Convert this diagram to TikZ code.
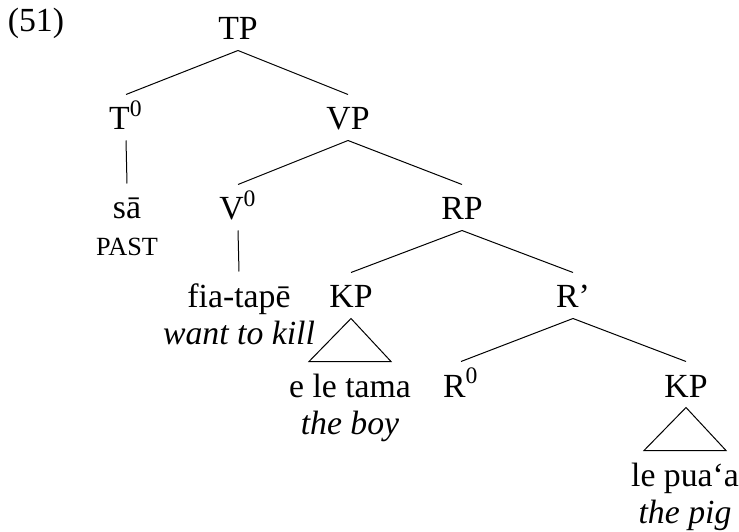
\documentclass[tikz,border=0pt]{standalone}
\usepackage{fontspec}
\setmainfont{Liberation Serif}
\usetikzlibrary{calc}
\newcommand{\glossfont}{\fontsize{10.5}{12}\selectfont}
\tikzset{
  cat/.style={anchor=base, inner sep=0pt, inner ysep=4pt, text height=10pt, text depth=0pt, font=\fontsize{13.5}{14.8}\selectfont},
  gl/.style={anchor=base, inner sep=0pt, font=\fontsize{13.5}{14.8}\selectfont\itshape}
}

\begin{document}
\begin{tikzpicture}[x=0.4pt, y=-0.4pt]
  \useasboundingbox (0,0) rectangle (739,532);

  % Example number
  \node[cat] (ex) at (36,32) {(51)};

  % Category labels
  \node[cat] (tp) at (238,40) {TP};
  \node[cat] (t0) at (126,130) {T\textsuperscript{0}};
  \node[cat] (vp) at (348,130) {VP};
  \node[cat] (v0) at (238,220) {V\textsuperscript{0}};
  \node[cat] (rp) at (462,220) {RP};
  \node[cat] (kpa) at (351,308) {KP};
  \node[cat] (rbar) at (573,308) {R’};
  \node[cat] (r0) at (461,397) {R\textsuperscript{0}};
  \node[cat] (kpb) at (686,397) {KP};

  % Words
  \node[cat] (sa) at (127,219) {sā};
  \node[cat] (fia) at (239,307) {fia-tapē};
  \node[cat] (tama) at (350,397) {e le tama};
  \node[cat] (pig) at (685,486) {le pua‘a};

  % Glosses
  \node[gl, font=\glossfont] (past) at (127,256) {PAST};
  \node[gl] (kill) at (239,344) {want to kill};
  \node[gl] (boy) at (350,434) {the boy};
  \node[gl] (pigg) at (685,523) {the pig};

  % Branches
  \foreach \a/\b in {tp/t0, tp/vp, t0/sa, vp/v0, vp/rp, v0/fia, rp/kpa, rp/rbar, rbar/r0, rbar/kpb} {
    \draw (\a.south) -- (\b.north);
  }

  % Triangles over phrases
  \foreach \a/\b in {kpa/tama, kpb/pig} {
    \draw (\a.south) -- ([xshift=-16.4pt]\b.north) -- ([xshift=16.4pt]\b.north) -- cycle;
  }
\end{tikzpicture}
\end{document}
